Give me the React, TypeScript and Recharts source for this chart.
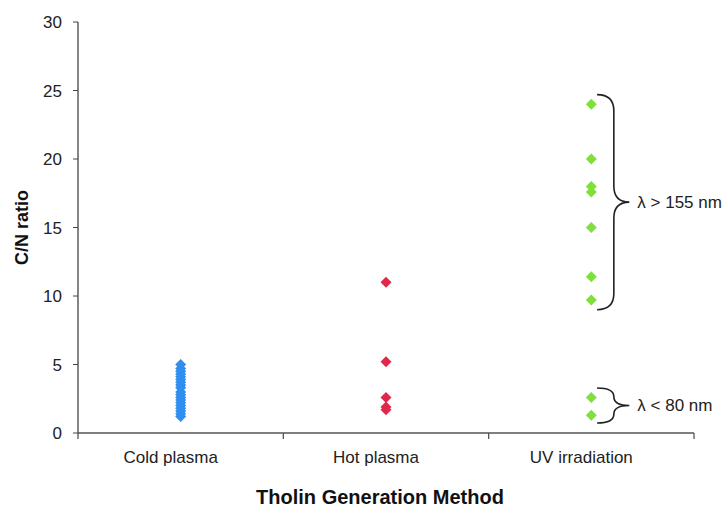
import React from 'react';
import { ScatterChart, Scatter, XAxis, YAxis, ReferenceArea } from 'recharts';

const categories = ['Cold plasma', 'Hot plasma', 'UV irradiation'];
const coldPlasma = [1.2, 1.4, 1.6, 1.8, 2.0, 2.2, 2.4, 2.6, 2.8, 3.0, 3.3, 3.5, 3.7, 3.9, 4.1, 4.3, 4.5, 4.7, 5.0];
const hotPlasma = [11.0, 5.2, 2.6, 1.9, 1.7];
const uvIrradiation = [24.0, 20.0, 18.0, 17.6, 15.0, 11.4, 9.7, 2.6, 1.3];
const yTicks = [0, 5, 10, 15, 20, 25, 30];
const braces = [
  { label: 'λ > 155 nm', from: 9.0, to: 24.7 },
  { label: 'λ < 80 nm', from: 0.73, to: 3.28 },
];

const FONT = '"Liberation Sans", Arial, sans-serif';
const series = [
  { name: categories[0], values: coldPlasma, color: '#2f8ff0' },
  { name: categories[1], values: hotPlasma, color: '#e2284a' },
  { name: categories[2], values: uvIrradiation, color: '#7fe03c' },
];

const Diamond = (props: any) => {
  const { cx, cy, fill } = props;
  const r = 5.5;
  return <polygon points={`${cx},${cy - r} ${cx + r},${cy} ${cx},${cy + r} ${cx - r},${cy}`} fill={fill} />;
};

const CategoryTick = (props: any) => {
  const { x, y, payload } = props;
  const v = payload.value;
  if (Number.isInteger(v)) {
    return <line x1={x} y1={y} x2={x} y2={y + 6} stroke="#555" strokeWidth={1.3} />;
  }
  return (
    <text x={x - 10} y={y + 30} textAnchor="middle" fontSize={17} fontFamily={FONT} fill="#222">
      {categories[Math.floor(v)]}
    </text>
  );
};

const braceShape = (label: string) => (props: any) => {
  const { x, y, width, height } = props;
  const L = x;
  const S = x + width * 0.52;
  const T = x + width;
  const top = y;
  const bot = y + height;
  const mid = y + height / 2;
  const r = Math.min(width * 0.5, height / 4);
  const d = `M${L},${top} Q${S},${top} ${S},${top + r} L${S},${mid - r} Q${S},${mid} ${T},${mid} Q${S},${mid} ${S},${mid + r} L${S},${bot - r} Q${S},${bot} ${L},${bot}`;
  return (
    <g>
      <path d={d} fill="none" stroke="#222" strokeWidth={1.6} />
      <text x={T + 8} y={mid} dominantBaseline="central" fontSize={17} fontFamily={FONT} fill="#222">
        {label}
      </text>
    </g>
  );
};

export default function App() {
  return (
    <div style={{ position: 'absolute', left: 0, top: 0, background: '#fff' }}>
      <ScatterChart width={726} height={511} margin={{ top: 22, right: 32, left: 0, bottom: 0 }}>
        <XAxis
          type="number"
          dataKey="x"
          domain={[0, 3]}
          ticks={[0, 0.5, 1, 1.5, 2, 2.5, 3]}
          interval={0}
          height={78}
          tickLine={false}
          tickSize={0}
          tickMargin={0}
          tick={CategoryTick}
          axisLine={{ stroke: '#555', strokeWidth: 1.3 }}
          label={(p: any) => (
            <text
              x={p.viewBox.x + p.viewBox.width / 2 - 6}
              y={p.viewBox.y + 71}
              textAnchor="middle"
              fontSize={20}
              fontWeight="bold"
              fontFamily={FONT}
              fill="#111"
            >
              Tholin Generation Method
            </text>
          )}
        />
        <YAxis
          type="number"
          dataKey="y"
          domain={[0, 30]}
          ticks={yTicks}
          interval={0}
          width={78}
          tickSize={5}
          tickMargin={11}
          tick={{ fontSize: 17, fontFamily: FONT, fill: '#222' }}
          tickLine={{ stroke: '#444' }}
          axisLine={{ stroke: '#444', strokeWidth: 1.3 }}
          label={(p: any) => {
            const cx = 22;
            const cy = p.viewBox.y + p.viewBox.height / 2;
            return (
              <text
                x={cx}
                y={cy}
                transform={`rotate(-90 ${cx} ${cy})`}
                textAnchor="middle"
                dominantBaseline="central"
                fontSize={18}
                fontWeight="bold"
                fontFamily={FONT}
                fill="#111"
              >
                C/N ratio
              </text>
            );
          }}
        />
        {series.map((s, i) => (
          <Scatter
            key={s.name}
            name={s.name}
            data={s.values.map(v => ({ x: i + 0.5, y: v }))}
            fill={s.color}
            shape={Diamond}
            isAnimationActive={false}
          />
        ))}
        {braces.map(b => (
          <ReferenceArea
            key={b.label}
            x1={2.528}
            x2={2.685}
            y1={b.from}
            y2={b.to}
            ifOverflow="visible"
            shape={braceShape(b.label)}
          />
        ))}
      </ScatterChart>
    </div>
  );
}
